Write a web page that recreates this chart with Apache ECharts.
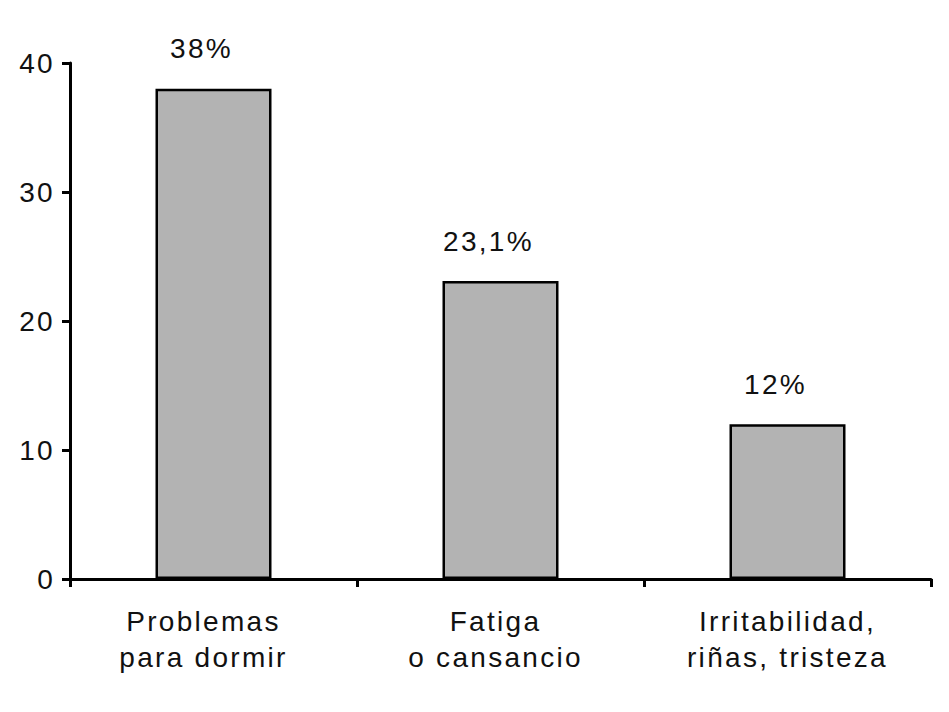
<!DOCTYPE html>
<html><head><meta charset="utf-8">
<script src="https://cdn.jsdelivr.net/npm/echarts@6/dist/echarts.min.js"></script>
<style>html,body{margin:0;padding:0;background:#fff}#c{width:949px;height:712px}#c text{letter-spacing:2.3px}</style>
</head><body><div id="c"></div>
<script>
const categories = ['Problemas\npara dormir', 'Fatiga\no cansancio', 'Irritabilidad,\nriñas, tristeza'];
const values = [38, 23.1, 12];
const valueLabels = ['38%', '23,1%', '12%'];
const yTicks = [0, 10, 20, 30, 40];

const font = '"Liberation Sans", Arial, Helvetica, sans-serif';
const catShift = [20, 10, 0];
const chart = echarts.init(document.getElementById('c'), null, {renderer: 'svg'});
chart.setOption({
  animation: false,
  grid: {left: 70, right: 18, top: 63, bottom: 133},
  xAxis: {
    type: 'category',
    data: categories.map((c, i) => ({value: c, textStyle: {padding: [0, catShift[i], 0, 0]}})),
    axisLine: {lineStyle: {color: '#000', width: 3}},
    axisTick: {show: true, length: 8, lineStyle: {color: '#000', width: 3}},
    axisLabel: {color: '#111', fontFamily: font, fontSize: 28, lineHeight: 36, margin: 24}
  },
  yAxis: {
    type: 'value', min: yTicks[0], max: yTicks[yTicks.length-1], interval: 10,
    splitLine: {show: false},
    axisLine: {show: true, lineStyle: {color: '#000', width: 3}},
    axisTick: {show: true, length: 8, lineStyle: {color: '#000', width: 3}},
    axisLabel: {color: '#111', fontFamily: font, fontSize: 28, margin: 15}
  },
  series: [{
    type: 'bar', data: values, barWidth: 116,
    itemStyle: {color: '#b3b3b3', borderColor: '#000', borderWidth: 2.5},
    label: {show: true, position: 'top', distance: 26, offset: [-12, 0], color: '#111', fontFamily: font, fontSize: 28,
      formatter: p => valueLabels[p.dataIndex]}
  }]
});
</script></body></html>
